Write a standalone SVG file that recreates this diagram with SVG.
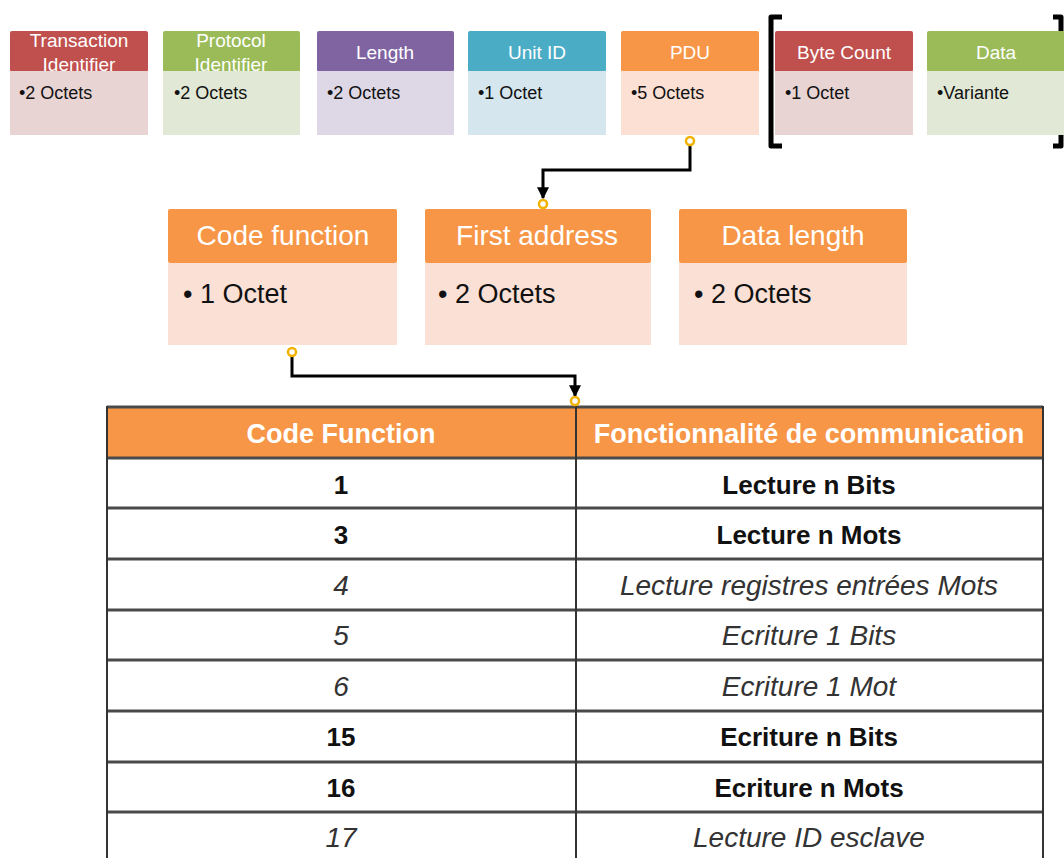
<svg xmlns="http://www.w3.org/2000/svg" width="1064" height="858" viewBox="0 0 1064 858">
<defs>
<style>
.ht{font-family:"Liberation Sans",Arial,sans-serif;font-size:19px;fill:#fff;text-anchor:middle}
.bt{font-family:"Liberation Sans",Arial,sans-serif;font-size:18px;fill:#111}
.mh{font-family:"Liberation Sans",Arial,sans-serif;font-size:28px;fill:#fff;text-anchor:middle}
.mb{font-family:"Liberation Sans",Arial,sans-serif;font-size:27px;fill:#111}
.th{font-family:"Liberation Sans",Arial,sans-serif;font-size:27px;font-weight:bold;fill:#fff;text-anchor:middle}
.tb{font-family:"Liberation Sans",Arial,sans-serif;font-size:26px;font-weight:bold;fill:#111;text-anchor:middle}
.ti{font-family:"Liberation Sans",Arial,sans-serif;font-size:28px;font-style:italic;fill:#333;text-anchor:middle}
.conn{fill:none;stroke:#000;stroke-width:3}
.dot{fill:#fff;stroke:#F2B200;stroke-width:2.5}
.grid{stroke:#4a4a4a;stroke-width:3;fill:none}
.brk{fill:none;stroke:#000;stroke-width:5;stroke-linejoin:round}
</style>
<marker id="arr" viewBox="0 0 10 10" refX="9" refY="5" markerWidth="4" markerHeight="4" orient="auto" markerUnits="strokeWidth">
<path d="M0,0 L10,5 L0,10 z" fill="#000"/>
</marker>
</defs>

<g id="transaction-identifier">
<rect x="10" y="31" width="138" height="41" rx="2" fill="#C0504D"/>
<text class="ht" x="79" y="47">Transaction</text>
<text class="ht" x="79" y="71">Identifier</text>
<rect x="10" y="71" width="138" height="64" fill="#E9D4D4"/>
<text class="bt" x="19" y="99">•2 Octets</text>
</g>
<g id="protocol-identifier">
<rect x="163" y="31" width="137" height="41" rx="2" fill="#9BBB59"/>
<text class="ht" x="231" y="47">Protocol</text>
<text class="ht" x="231" y="71">Identifier</text>
<rect x="163" y="71" width="137" height="64" fill="#E1E9D6"/>
<text class="bt" x="174" y="99">•2 Octets</text>
</g>
<g id="length">
<rect x="317" y="31" width="137" height="41" rx="2" fill="#8064A2"/>
<text class="ht" x="385" y="59">Length</text>
<rect x="317" y="71" width="137" height="64" fill="#DED8E6"/>
<text class="bt" x="327" y="99">•2 Octets</text>
</g>
<g id="unit-id">
<rect x="468" y="31" width="138" height="41" rx="2" fill="#4BACC6"/>
<text class="ht" x="537" y="59">Unit ID</text>
<rect x="468" y="71" width="138" height="64" fill="#D5E6EE"/>
<text class="bt" x="478" y="99">•1 Octet</text>
</g>
<g id="pdu">
<rect x="621" y="31" width="138" height="41" rx="2" fill="#F79646"/>
<text class="ht" x="690" y="59">PDU</text>
<rect x="621" y="71" width="138" height="64" fill="#FCE0D4"/>
<text class="bt" x="631" y="99">•5 Octets</text>
</g>
<g id="bracket">
<path class="brk" d="M782,17 H771 V146 H782"/>
<path class="brk" d="M1053,17 H1061 V146 H1053"/>
</g>
<g id="byte-count">
<rect x="775" y="31" width="138" height="41" rx="2" fill="#C0504D"/>
<text class="ht" x="844" y="59">Byte Count</text>
<rect x="775" y="71" width="138" height="64" fill="#E9D4D4"/>
<text class="bt" x="785" y="99">•1 Octet</text>
</g>
<g id="data">
<rect x="927" y="31" width="140" height="41" rx="2" fill="#9BBB59"/>
<text class="ht" x="996" y="59">Data</text>
<rect x="927" y="71" width="140" height="64" fill="#E1E9D6"/>
<text class="bt" x="937" y="99">•Variante</text>
</g>

<g id="code-function">
<rect x="168" y="209" width="229" height="54" rx="2" fill="#F79646"/>
<text class="mh" x="283" y="245">Code function</text>
<rect x="168" y="263" width="229" height="82" fill="#FBE0D5"/>
<text class="mb" x="183" y="303">• 1 Octet</text>
</g>
<g id="first-address">
<rect x="425" y="209" width="226" height="54" rx="2" fill="#F79646"/>
<text class="mh" x="537" y="245">First address</text>
<rect x="425" y="263" width="226" height="82" fill="#FBE0D5"/>
<text class="mb" x="438" y="303">• 2 Octets</text>
</g>
<g id="data-length">
<rect x="679" y="209" width="228" height="54" rx="2" fill="#F79646"/>
<text class="mh" x="793" y="245">Data length</text>
<rect x="679" y="263" width="228" height="82" fill="#FBE0D5"/>
<text class="mb" x="694" y="303">• 2 Octets</text>
</g>

<g id="table">
<rect x="107" y="407" width="936" height="51" fill="#F79646"/>
<rect x="107" y="458" width="936" height="402" fill="#fff"/>
<path class="grid" d="M107,407 H1043 M107,458 H1043 M107,508 H1043 M107,559 H1043 M107,610 H1043 M107,660 H1043 M107,711 H1043 M107,762 H1043 M107,812 H1043"/>
<path stroke="#333" stroke-width="2" fill="none" d="M107,406 V860 M576,406 V860 M1043,406 V860"/>
<text class="th" x="341" y="443">Code Function</text>
<text class="th" x="809" y="443">Fonctionnalité de communication</text>
<text class="tb" x="341" y="494">1</text>
<text class="tb" x="809" y="494">Lecture n Bits</text>
<text class="tb" x="341" y="544">3</text>
<text class="tb" x="809" y="544">Lecture n Mots</text>
<text class="ti" x="341" y="595">4</text>
<text class="ti" x="809" y="595">Lecture registres entrées Mots</text>
<text class="ti" x="341" y="645">5</text>
<text class="ti" x="809" y="645">Ecriture 1 Bits</text>
<text class="ti" x="341" y="696">6</text>
<text class="ti" x="809" y="696">Ecriture 1 Mot</text>
<text class="tb" x="341" y="746">15</text>
<text class="tb" x="809" y="746">Ecriture n Bits</text>
<text class="tb" x="341" y="797">16</text>
<text class="tb" x="809" y="797">Ecriture n Mots</text>
<text class="ti" x="341" y="847">17</text>
<text class="ti" x="809" y="847">Lecture ID esclave</text>
</g>

<g id="connectors">
<path class="conn" d="M690,141 V170 H543 V198" marker-end="url(#arr)"/>
<path class="conn" d="M292,352 V376 H575 V396" marker-end="url(#arr)"/>
<circle class="dot" cx="690" cy="141" r="4"/>
<circle class="dot" cx="543" cy="204" r="4"/>
<circle class="dot" cx="292" cy="352" r="4"/>
<circle class="dot" cx="575" cy="401" r="4"/>
</g>
</svg>
